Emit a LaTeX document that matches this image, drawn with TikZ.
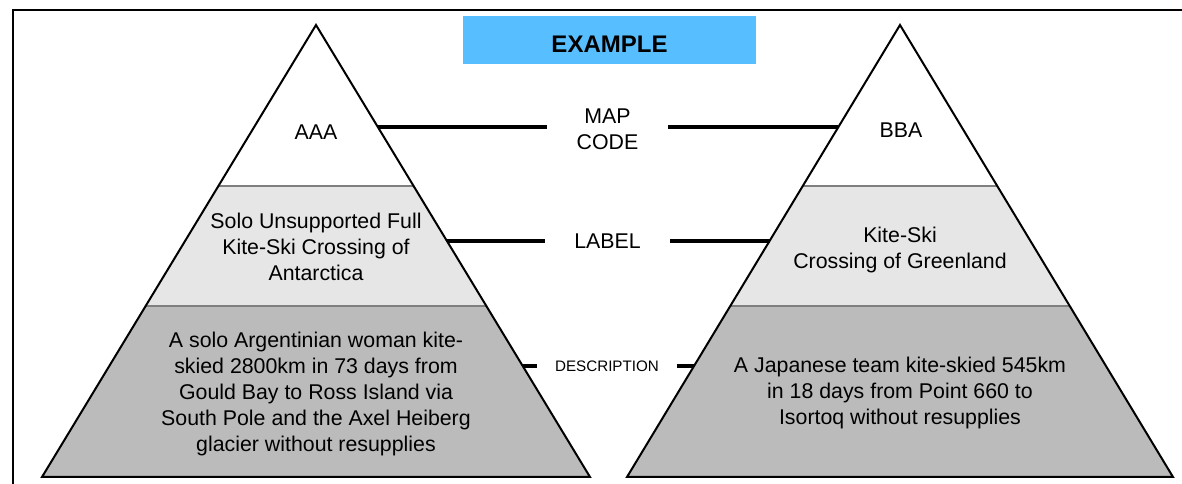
\documentclass[tikz,border=0pt]{standalone}
\usepackage{fontspec}
\setmainfont{Liberation Sans}
\usetikzlibrary{calc,positioning}
\definecolor{titleblue}{HTML}{57BFFF}
\definecolor{bandlight}{HTML}{E6E6E6}
\definecolor{banddark}{HTML}{BBBBBB}
\definecolor{divgray}{HTML}{7F7F7F}
\tikzstyle{pyramid} = [draw=black, line width=1.5pt, line join=miter]
\tikzstyle{divider} = [draw=divgray, line width=1.2pt]
\tikzstyle{tier} = [align=center, inner sep=0pt,
    font=\fontsize{16}{19.5}\selectfont]
\tikzstyle{legend} = [align=center, inner ysep=2pt, inner xsep=22pt,
    font=\fontsize{16}{19.5}\selectfont]
\tikzstyle{titlebox} = [fill=titleblue, minimum width=220pt,
    minimum height=36pt, text height=18.5pt, text depth=0pt,
    font=\fontsize{18}{22}\selectfont\bfseries]
\tikzstyle{link} = [draw, line width=3pt]

\begin{document}
\begin{tikzpicture}[x=0.75pt, y=-0.75pt]
    \clip (0,0) rectangle (1182,484);
    % frame, open to the right and below
    \draw [line width=1.8pt] (13,500) -- (13,10) -- (1200,10);

    % We start by placing the corners of both pyramids
    \coordinate (A-top) at (316,25);
    \coordinate (A-bl) at (42,477);
    \coordinate (A-br) at (590,477);
    \coordinate (B-top) at (900,25);
    \coordinate (B-bl) at (627,477);
    \coordinate (B-br) at (1173,477);

    % the three tiers, then the outline on top
    \foreach \p in {A,B} {
        \fill [bandlight] ($(\p-top)!0.356!(\p-bl)$) -- ($(\p-top)!0.622!(\p-bl)$)
            -- ($(\p-top)!0.622!(\p-br)$) -- ($(\p-top)!0.356!(\p-br)$) -- cycle;
        \fill [banddark] ($(\p-top)!0.622!(\p-bl)$) -- (\p-bl) -- (\p-br)
            -- ($(\p-top)!0.622!(\p-br)$) -- cycle;
        \draw [divider] ($(\p-top)!0.356!(\p-bl)$) -- ($(\p-top)!0.356!(\p-br)$);
        \draw [divider] ($(\p-top)!0.622!(\p-bl)$) -- ($(\p-top)!0.622!(\p-br)$);
    }

    \node [titlebox] (title) at (609.5,40) {EXAMPLE};

    % legend in the middle
    \node [legend] (mapcode) at (607.5,129) {MAP\\CODE};
    \node [legend] (labeltag) at (607.5,241) {LABEL};
    \node [legend, inner xsep=13pt,
            font=\fontsize{11.4}{14}\selectfont] (desctag) at (607,366) {DESCRIPTION};

    % points where the connectors meet the sides
    \coordinate (mapA) at ($(A-top)!0.2257!(A-br)$);
    \coordinate (mapB) at ($(B-top)!0.2257!(B-bl)$);
    \coordinate (labA) at ($(A-top)!0.4779!(A-br)$);
    \coordinate (labB) at ($(B-top)!0.4779!(B-bl)$);
    \coordinate (desA) at ($(A-top)!0.7544!(A-br)$);
    \coordinate (desB) at ($(B-top)!0.7544!(B-bl)$);

    \draw [link] (mapA) -- (mapA -| mapcode.west);
    \draw [link] (mapcode.east |- mapB) -- (mapB);
    \draw [link] (labA) -- (labA -| labeltag.west);
    \draw [link] (labeltag.east |- labB) -- (labB);
    \draw [link] (desA) -- (desA -| desctag.west);
    \draw [link] (desctag.east |- desB) -- (desB);

    \foreach \p in {A,B}
        \draw [pyramid] (\p-top) -- (\p-bl) -- (\p-br) -- cycle;

    % texts of the tiers
    \node [tier] (codeA) at (316,132) {AAA};
    \node [tier] (nameA) at (316,247) {Solo Unsupported Full\\Kite-Ski Crossing of\\Antarctica};
    \node [tier] (descA) at (316,394) {A solo Argentinian woman kite-\\skied 2800km in 73 days from\\Gould Bay to Ross Island via\\South Pole and the Axel Heiberg\\glacier without resupplies};
    \node [tier] (codeB) at (901,130) {BBA};
    \node [tier] (nameB) at (900,250) {Kite-Ski\\Crossing of Greenland};
    \node [tier] (descB) at (900,393) {A Japanese team kite-skied 545km\\in 18 days from Point 660 to\\Isortoq without resupplies};
\end{tikzpicture}
\end{document}
